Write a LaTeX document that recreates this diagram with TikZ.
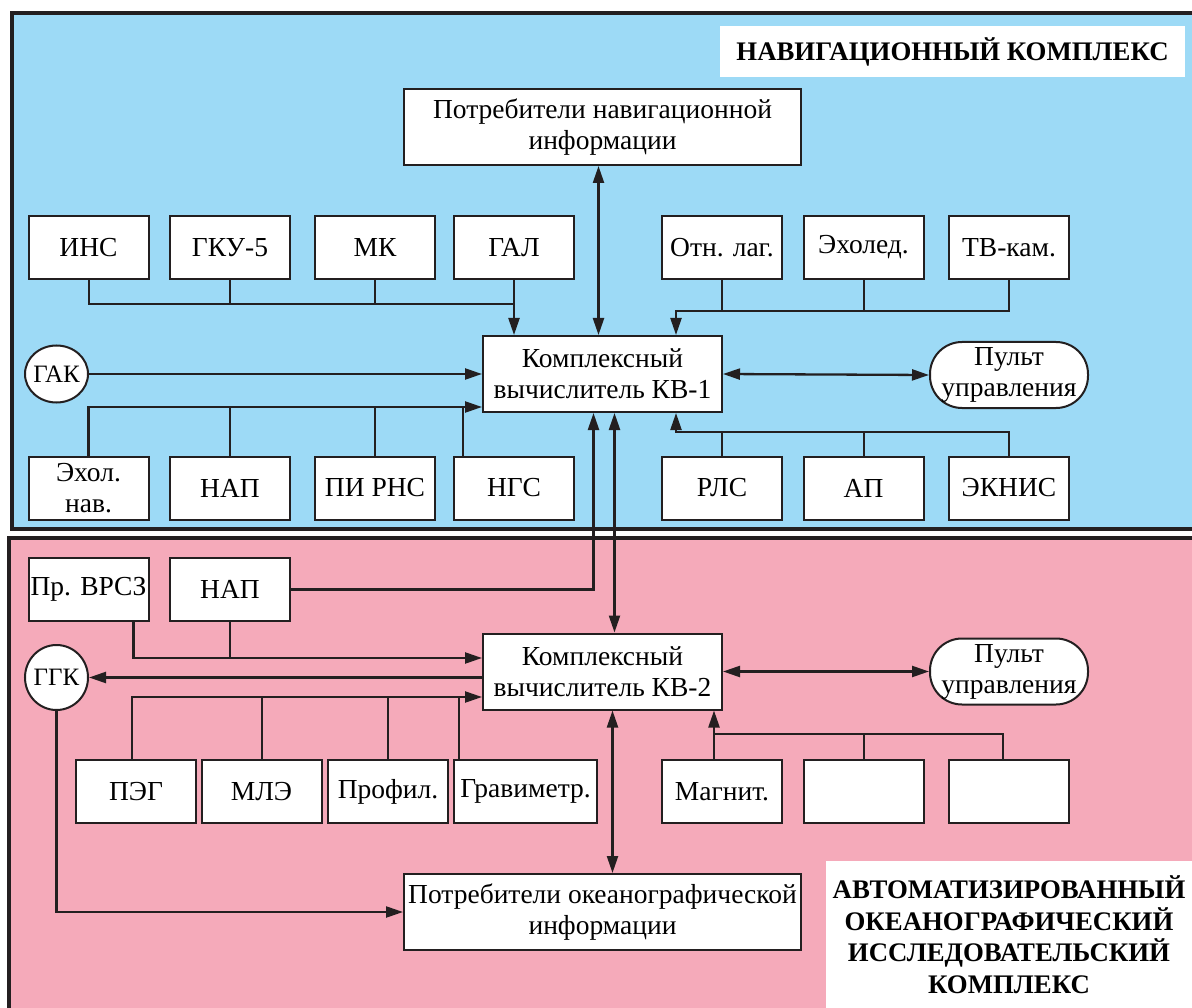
\documentclass[tikz,border=0pt]{standalone}
\usepackage{fontspec}
\setmainfont{Liberation Serif}
\usepackage{tikz}
\usetikzlibrary{arrows.meta,backgrounds,shapes.geometric}
\definecolor{navblue}{RGB}{157,218,246}
\definecolor{oceanpink}{RGB}{245,170,186}
\definecolor{ink}{RGB}{35,31,32}
\tikzstyle{unit}=[rectangle,draw=ink,fill=white,line width=2pt,minimum width=120pt,minimum height=63pt,inner sep=1pt,align=center,font=\fontsize{27.5}{31}\selectfont]
\tikzstyle{computer}=[unit,minimum width=239pt,minimum height=76pt]
\tikzstyle{users}=[unit,minimum width=397pt,minimum height=76pt]
\tikzstyle{console}=[unit,rounded corners=32pt,minimum width=158pt,minimum height=66pt]
\tikzstyle{gauge}=[unit,ellipse,inner sep=0pt,minimum width=63pt,minimum height=57pt,font=\fontsize{25}{30}\selectfont]
\tikzstyle{heading}=[fill=white,inner sep=0pt,align=center,font=\bfseries\fontsize{26.8}{31.5}\selectfont]
\tikzstyle{link}=[ink,line width=2.3pt]
\tikzstyle{bus}=[ink,line width=2pt]

\begin{document}
\begin{tikzpicture}[x=1pt,y=-1pt,>={Triangle[length=17pt,width=11pt]}]
  \useasboundingbox (0,0) rectangle (1192,1008);
  % navigation complex
  \node at ( 952.5, 51.5) [heading,minimum width=465pt,minimum height=51pt] (NavTitle) {НАВИГАЦИОННЫЙ КОМПЛЕКС};
  \node at ( 602.5,127)   [users] (NavUsers) {Потребители навигационной\\информации};
  \node at (  88.5,247.5) [unit] (INS) {ИНС};
  \node at ( 230,  247.5) [unit] (GKU) {ГКУ-5};
  \node at ( 375,  247.5) [unit] (MK) {МК};
  \node at ( 514,  247.5) [unit] (GAL) {ГАЛ};
  \node at ( 722,  247.5) [unit] (OtnLag) {Отн. лаг.};
  \node at ( 863.5,247.5) [unit] (EchoIce) {Эхолед.};
  \node at (1009,  247.5) [unit] (TVCam) {ТВ-кам.};
  \node at (  56.5,374)   [gauge] (GAK) {\makebox[0pt]{ГАК}};
  \node at ( 602.5,374)   [computer] (KV1) {Комплексный\\вычислитель КВ-1};
  \node at (1009,  375)   [console] (PultA) {Пульт\\управления};
  \node at (  88.5,488)   [unit] (EchoNav) {Эхол.\\нав.};
  \node at ( 230,  488)   [unit] (NAPA) {НАП};
  \node at ( 375,  488)   [unit] (PIRNS) {ПИ РНС};
  \node at ( 514,  488)   [unit] (NGS) {НГС};
  \node at ( 722,  488)   [unit] (RLS) {РЛС};
  \node at ( 863.5,488)   [unit] (AP) {АП};
  \node at (1009,  488)   [unit] (ECDIS) {ЭКНИС};
  % oceanographic complex
  \node at (  88.5,589.5) [unit] (PrVRSZ) {Пр. ВРСЗ};
  \node at ( 230,  589.5) [unit] (NAPB) {НАП};
  \node at (  56.5,677.5) [gauge,minimum height=65pt] (GGK) {\makebox[0pt]{ГГК}};
  \node at ( 602.5,671.5) [computer] (KV2) {Комплексный\\вычислитель КВ-2};
  \node at (1009,  671.5) [console] (PultB) {Пульт\\управления};
  \node at ( 136,  791.5) [unit] (PEG) {ПЭГ};
  \node at ( 261.5,791.5) [unit] (MLE) {МЛЭ};
  \node at ( 388,  791.5) [unit] (Profil) {Профил.};
  \node at ( 525.5,791.5) [unit,minimum width=143pt] (Gravi) {Гравиметр.};
  \node at ( 722,  791.5) [unit] (Magnit) {Магнит.};
  \node at ( 863.5,791.5) [unit] (SpareA) {};
  \node at (1009,  791.5) [unit] (SpareB) {};
  \node at ( 602.5,912)   [users] (OceanUsers) {Потребители океанографической\\информации};
  \node at (1009,  934.5) [heading,minimum width=366pt,minimum height=147pt] (OceanTitle) {АВТОМАТИЗИРОВАННЫЙ\\ОКЕАНОГРАФИЧЕСКИЙ\\ИССЛЕДОВАТЕЛЬСКИЙ\\КОМПЛЕКС};
  % taps and bus levels
  \coordinate (BusIn)  at (0,304);
  \coordinate (BusAux) at (0,311);
  \coordinate (BusLow) at ([yshift=6pt]KV1.south west);
  \coordinate (BusRad) at (0,432);
  \coordinate (BusSrc) at (0,658);
  \coordinate (BusSen) at (0,697);
  \coordinate (BusMag) at (0,734);
  \coordinate (KV1inA) at ([xshift=-47pt]KV1.north east);
  \coordinate (KV1inB) at ([xshift=-47pt]KV1.south east);
  \coordinate (KV1inC) at ([xshift=-9pt]KV1.south);
  \coordinate (KV1inD) at ([xshift=12pt]KV1.south);
  \coordinate (KV2in)  at ([xshift=-9pt]KV2.south east);
  \coordinate (KV2out) at ([xshift=10pt]KV2.south);
  \coordinate (NavUp)  at ([xshift=-4pt]NavUsers.south);
  \coordinate (NGSTap) at ([xshift=10pt]NGS.north west);
  \coordinate (VRSZTap) at ([xshift=-16pt]PrVRSZ.south east);
  \coordinate (PEGTap) at ([xshift=-4pt]PEG.north);
  \coordinate (GraviTap) at ([xshift=6pt]Gravi.north west);
  \coordinate (SpareTap) at ([xshift=-6pt]SpareB.north);
  % navigation links
  \draw [link,<->] (NavUp) to (NavUp |- KV1.north);
  \draw [bus] (INS.south) |- (GAL.south |- BusIn);
  \draw [bus] (GKU.south) to (GKU.south |- BusIn);
  \draw [bus] (MK.south) to (MK.south |- BusIn);
  \draw [link,->] (GAL.south) to (GAL.south |- KV1.north);
  \draw [link,->] (TVCam.south) |- (KV1inA |- BusAux) to (KV1inA);
  \draw [bus] (OtnLag.south) to (OtnLag.south |- BusAux);
  \draw [bus] (EchoIce.south) to (EchoIce.south |- BusAux);
  \draw [link,->] (GAK.east) to (KV1.west);
  \draw [link,->] (EchoNav.north) |- (BusLow);
  \draw [bus] (NAPA.north) to (NAPA.north |- BusLow);
  \draw [bus] (PIRNS.north) to (PIRNS.north |- BusLow);
  \draw [bus] (NGSTap) to (NGSTap |- BusLow);
  \draw [link,<->] (KV1.east) to (PultA.west);
  \draw [link,->] (ECDIS.north) |- (KV1inB |- BusRad) to (KV1inB);
  \draw [bus] (RLS.north) to (RLS.north |- BusRad);
  \draw [bus] (AP.north) to (AP.north |- BusRad);
  % oceanographic links
  \draw [link,->] (NAPB.east) -| (KV1inC);
  \draw [link,<->] (KV1inD) to (KV1inD |- KV2.north);
  \draw [link,->] (VRSZTap) |- (BusSrc -| KV2.west);
  \draw [bus] (NAPB.south) to (NAPB.south |- BusSrc);
  \draw [link,->] (GGK -| KV2.west) to (GGK.east);
  \draw [link,->] (PEGTap) |- (BusSen -| KV2.west);
  \draw [bus] (MLE.north) to (MLE.north |- BusSen);
  \draw [bus] (Profil.north) to (Profil.north |- BusSen);
  \draw [bus] (GraviTap) to (GraviTap |- BusSen);
  \draw [link,<->] (KV2.east) to (PultB.west);
  \draw [link,<->] (KV2out) to (KV2out |- OceanUsers.north);
  \draw [link,->] (KV2in |- Magnit.north) to (KV2in);
  \draw [bus] (KV2in |- BusMag) -| (SpareTap);
  \draw [bus] (SpareA.north) to (SpareA.north |- BusMag);
  \draw [link,->] (GGK.south) |- (OceanUsers.west);
  \begin{pgfonlayer}{background}
    \fill [navblue] (12,13) rectangle (1192,529);
    \draw [ink,line width=3.2pt] (1192,13) -- (12,13) -- (12,529) -- (1192,529);
    \fill [oceanpink] (9,538) rectangle (1192,1008);
    \draw [ink,line width=3.2pt] (1192,538) -- (9,538) -- (9,1008);
  \end{pgfonlayer}
\end{tikzpicture}
\end{document}
